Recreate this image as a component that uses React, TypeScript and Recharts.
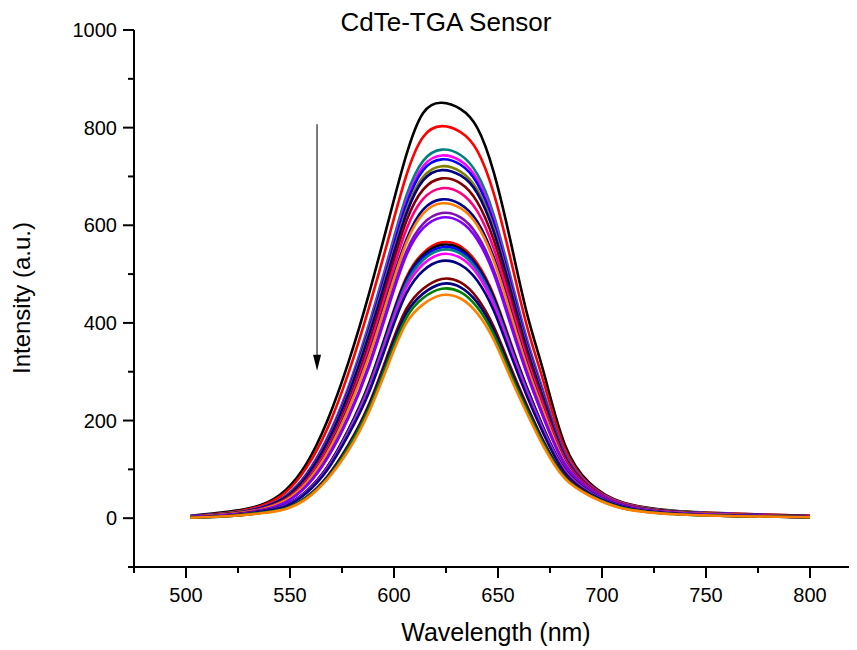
import React from 'react';
import { LineChart, Line, XAxis, YAxis, ReferenceLine } from 'recharts';

const wavelengths = [502, 520, 536, 548, 558, 568, 578, 588, 598, 606, 614, 623, 632, 640, 648, 656, 664, 672, 682, 694, 710, 735, 765, 800];

const black1 = [5, 13, 27, 58, 112, 200, 318, 460, 620, 745, 830, 851, 838, 800, 708, 568, 418, 298, 152, 72, 32, 15, 9, 5];
const red1 = [4, 11, 25, 53, 104, 184, 296, 432, 583, 703, 781, 803, 791, 753, 665, 532, 392, 278, 143, 69, 31, 14, 9, 5];
const teal1 = [4, 10, 22, 46, 91, 165, 268, 398, 545, 661, 732, 755, 744, 705, 621, 495, 366, 257, 135, 67, 30, 14, 8, 4];
const magenta1 = [4, 10, 22, 45, 90, 163, 264, 391, 537, 650, 721, 743, 732, 694, 611, 487, 360, 253, 133, 66, 30, 13, 8, 4];
const blue1 = [4, 10, 21, 45, 89, 161, 261, 387, 531, 643, 713, 735, 724, 686, 604, 482, 356, 250, 131, 65, 29, 13, 8, 4];
const olive1 = [3, 10, 21, 44, 87, 158, 256, 380, 521, 631, 699, 721, 710, 673, 593, 473, 349, 246, 129, 64, 29, 13, 7, 4];
const navy1 = [3, 9, 21, 43, 86, 156, 253, 375, 515, 624, 692, 713, 702, 666, 586, 468, 345, 243, 127, 63, 28, 13, 7, 4];
const wine1 = [3, 9, 19, 40, 79, 145, 239, 359, 500, 609, 673, 696, 686, 648, 569, 453, 335, 234, 124, 64, 28, 13, 7, 4];
const pink1 = [3, 8, 19, 38, 77, 141, 232, 348, 486, 592, 654, 676, 666, 629, 552, 440, 325, 227, 121, 62, 28, 12, 7, 3];
const royal1 = [3, 8, 18, 37, 74, 136, 225, 336, 470, 571, 632, 653, 643, 608, 534, 425, 314, 219, 117, 60, 27, 12, 7, 3];
const orange1 = [3, 8, 18, 37, 73, 134, 222, 332, 464, 564, 624, 645, 635, 600, 527, 420, 310, 217, 115, 59, 26, 12, 7, 3];
const purple1 = [2, 7, 16, 33, 67, 125, 208, 315, 447, 547, 603, 625, 616, 580, 508, 403, 298, 207, 112, 59, 26, 11, 6, 3];
const violet1 = [2, 7, 16, 33, 66, 123, 205, 310, 441, 539, 594, 616, 607, 571, 500, 397, 294, 204, 110, 58, 26, 11, 6, 3];
const red2 = [2, 6, 14, 27, 56, 106, 181, 277, 402, 494, 543, 565, 557, 522, 456, 361, 267, 184, 101, 55, 24, 10, 5, 3];
const black2 = [2, 6, 14, 27, 55, 105, 180, 275, 399, 490, 539, 560, 552, 517, 452, 357, 265, 182, 100, 54, 24, 10, 5, 2];
const blue2 = [2, 6, 13, 27, 55, 104, 178, 272, 395, 486, 534, 555, 547, 513, 447, 354, 263, 181, 99, 54, 24, 10, 5, 2];
const teal2 = [2, 6, 13, 26, 54, 103, 177, 270, 391, 481, 529, 550, 542, 508, 443, 351, 260, 179, 98, 53, 23, 10, 5, 2];
const magenta2 = [2, 6, 13, 26, 53, 102, 174, 265, 385, 473, 520, 541, 533, 500, 436, 345, 256, 176, 97, 52, 23, 10, 5, 2];
const navy2 = [2, 5, 13, 25, 52, 99, 170, 258, 375, 461, 507, 527, 519, 487, 425, 336, 249, 172, 94, 51, 23, 9, 5, 2];
const wine2 = [1, 5, 11, 21, 44, 86, 150, 234, 347, 429, 470, 490, 483, 451, 392, 310, 230, 157, 88, 49, 21, 9, 4, 2];
const navy3 = [1, 4, 11, 21, 43, 84, 147, 229, 340, 420, 460, 480, 473, 442, 384, 303, 225, 154, 86, 48, 21, 9, 4, 2];
const green1 = [1, 4, 11, 20, 42, 82, 144, 225, 333, 411, 451, 470, 463, 432, 376, 297, 221, 151, 84, 47, 21, 8, 4, 2];
const orange2 = [1, 4, 10, 19, 40, 80, 138, 218, 323, 400, 438, 457, 450, 420, 365, 288, 214, 146, 82, 46, 20, 8, 4, 2];

const xTicks = [475, 500, 525, 550, 575, 600, 625, 650, 675, 700, 725, 750, 775, 800, 825];
const yTicks = [-100, 0, 100, 200, 300, 400, 500, 600, 700, 800, 900, 1000];

const titleText = 'CdTe-TGA Sensor';
const xLabel = 'Wavelength (nm)';
const yLabel = 'Intensity (a.u.)';

const arrowX = 563;
const arrowTop = 807;
const arrowTip = 302;

const series = [
  { key: 's1', color: '#000000', values: black1 },
  { key: 's2', color: '#FF0000', values: red1 },
  { key: 's3', color: '#008080', values: teal1 },
  { key: 's4', color: '#FF00FF', values: magenta1 },
  { key: 's5', color: '#0000FF', values: blue1 },
  { key: 's6', color: '#808000', values: olive1 },
  { key: 's7', color: '#000080', values: navy1 },
  { key: 's8', color: '#800000', values: wine1 },
  { key: 's9', color: '#FF0080', values: pink1 },
  { key: 's10', color: '#000090', values: royal1 },
  { key: 's11', color: '#FF8000', values: orange1 },
  { key: 's12', color: '#8010B0', values: purple1 },
  { key: 's13', color: '#8000FF', values: violet1 },
  { key: 's14', color: '#FF0000', values: red2 },
  { key: 's15', color: '#000000', values: black2 },
  { key: 's16', color: '#0000FF', values: blue2 },
  { key: 's17', color: '#008080', values: teal2 },
  { key: 's18', color: '#FF00FF', values: magenta2 },
  { key: 's19', color: '#000080', values: navy2 },
  { key: 's20', color: '#800000', values: wine2 },
  { key: 's21', color: '#000080', values: navy3 },
  { key: 's22', color: '#008000', values: green1 },
  { key: 's23', color: '#FF8000', values: orange2 },
];

const data = wavelengths.map((w, i) => {
  const row: Record<string, number> = { w };
  series.forEach((s) => {
    row[s.key] = s.values[i];
  });
  return row;
});

const FONT = '"Liberation Sans", Arial, Helvetica, sans-serif';

const XTick = (props: any) => {
  const { x, y, payload } = props;
  const v = payload.value;
  const major = v % 50 === 0;
  const label = major && v >= 500 && v <= 800;
  return (
    <g>
      <line x1={x} y1={y} x2={x} y2={y + (major ? 11 : 6)} stroke="#000" strokeWidth={2} />
      {label && (
        <text x={x} y={y + 35} textAnchor="middle" fontSize={20} fontFamily={FONT} fill="#000">
          {v}
        </text>
      )}
    </g>
  );
};

const YTick = (props: any) => {
  const { x, y, payload } = props;
  const v = payload.value;
  const major = v % 200 === 0;
  const label = major && v >= 0;
  return (
    <g>
      <line x1={x} y1={y} x2={x - (major ? 11 : 6)} y2={y} stroke="#000" strokeWidth={2} />
      {label && (
        <text x={x - 17} y={y} dy="0.35em" textAnchor="end" fontSize={20} fontFamily={FONT} fill="#000">
          {v}
        </text>
      )}
    </g>
  );
};

const ArrowShape = (props: any) => {
  const { x1, y1, x2, y2 } = props;
  const headH = 16;
  const headW = 4;
  return (
    <g>
      <line x1={x1} y1={y1} x2={x2} y2={y2 - headH + 2} stroke="#333" strokeWidth={1.3} />
      <polygon points={`${x2 - headW},${y2 - headH} ${x2 + headW},${y2 - headH} ${x2},${y2}`} fill="#000" />
    </g>
  );
};

export default function App() {
  return (
    <div style={{ width: 849, height: 642, overflow: 'hidden' }}>
      <LineChart width={854} height={642} data={data} margin={{ top: 22, right: 0, bottom: 0, left: 0 }}>
        <XAxis
          dataKey="w"
          type="number"
          domain={[475, 825]}
          ticks={xTicks}
          interval={0}
          allowDataOverflow
          height={83}
          tickLine={false}
          tickSize={0}
          tickMargin={0}
          axisLine={{ stroke: '#000', strokeWidth: 2 }}
          tick={<XTick />}
        />
        <YAxis
          type="number"
          domain={[-100, 1000]}
          ticks={yTicks}
          interval={0}
          allowDataOverflow
          width={126}
          tickLine={false}
          tickSize={0}
          tickMargin={0}
          axisLine={{ stroke: '#000', strokeWidth: 2 }}
          tick={<YTick />}
        />
        {series.map((s) => (
          <Line
            key={s.key}
            dataKey={s.key}
            type="natural"
            stroke={s.color}
            strokeWidth={2.6}
            dot={false}
            activeDot={false}
            isAnimationActive={false}
          />
        ))}
        <ReferenceLine
          segment={[
            { x: arrowX, y: arrowTop },
            { x: arrowX, y: arrowTip },
          ]}
          stroke="#333"
          shape={<ArrowShape />}
        />
        <text x={438} y={14} dy="0.35em" textAnchor="middle" fontSize={26} fontFamily={FONT} fill="#000">
          {titleText}
        </text>
        <text x={488} y={624} dy="0.35em" textAnchor="middle" fontSize={25} fontFamily={FONT} fill="#000">
          {xLabel}
        </text>
        <text
          x={14}
          y={290}
          dy="0.35em"
          textAnchor="middle"
          fontSize={24}
          fontFamily={FONT}
          fill="#000"
          transform="rotate(-90 14 290)"
        >
          {yLabel}
        </text>
      </LineChart>
    </div>
  );
}
